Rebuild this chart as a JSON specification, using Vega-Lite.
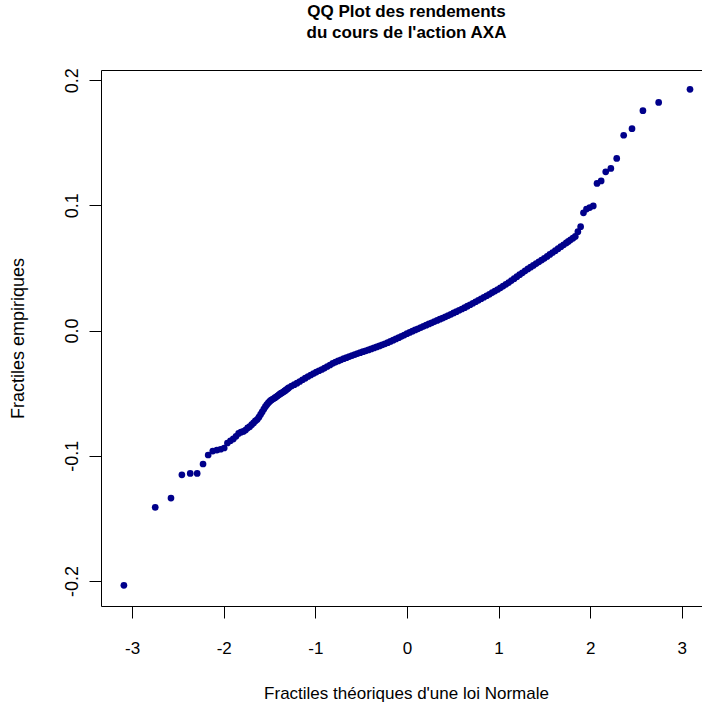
{
  "$schema": "https://vega.github.io/schema/vega-lite/v6.json",
  "autosize": "none",
  "padding": {"left": 101, "top": 70, "right": 0, "bottom": 104},
  "width": 601,
  "height": 536,
  "background": "white",
  "title": {
    "text": ["QQ Plot des rendements", "du cours de l'action AXA"],
    "font": "Liberation Sans",
    "fontSize": 17,
    "fontWeight": "bold",
    "color": "#000000",
    "anchor": "middle",
    "frame": "group",
    "dx": 5,
    "offset": 13,
    "baseline": "alphabetic",
    "lineHeight": 21
  },
  "config": {
    "view": {"stroke": "#000000", "strokeWidth": 1},
    "axis": {
      "grid": false,
      "domain": false,
      "tickColor": "#000000",
      "tickSize": 12,
      "labelFont": "Liberation Sans",
      "labelColor": "#000000",
      "titleFont": "Liberation Sans",
      "titleColor": "#000000",
      "titleFontWeight": "normal"
    }
  },
  "data": {
    "values": [
      {"x": -3.090, "y": -0.2035}, {"x": -2.748, "y": -0.1412}, {"x": -2.576, "y": -0.1338}, {"x": -2.457, "y": -0.1152},
      {"x": -2.366, "y": -0.1141}, {"x": -2.290, "y": -0.1141}, {"x": -2.226, "y": -0.1066}, {"x": -2.170, "y": -0.0994},
      {"x": -2.120, "y": -0.0963}, {"x": -2.075, "y": -0.0955}, {"x": -2.034, "y": -0.0948}, {"x": -1.995, "y": -0.0938},
      {"x": -1.960, "y": -0.0898}, {"x": -1.927, "y": -0.0880}, {"x": -1.896, "y": -0.0866}, {"x": -1.866, "y": -0.0845},
      {"x": -1.838, "y": -0.0822}, {"x": -1.812, "y": -0.0812}, {"x": -1.786, "y": -0.0806}, {"x": -1.762, "y": -0.0795},
      {"x": -1.739, "y": -0.0778}, {"x": -1.717, "y": -0.0768}, {"x": -1.695, "y": -0.0752}, {"x": -1.675, "y": -0.0738},
      {"x": -1.655, "y": -0.0722}, {"x": -1.635, "y": -0.0710}, {"x": -1.616, "y": -0.0692}, {"x": -1.598, "y": -0.0670},
      {"x": -1.581, "y": -0.0650}, {"x": -1.563, "y": -0.0628}, {"x": -1.546, "y": -0.0608}, {"x": -1.530, "y": -0.0592},
      {"x": -1.514, "y": -0.0578}, {"x": -1.499, "y": -0.0566}, {"x": -1.483, "y": -0.0556}, {"x": -1.468, "y": -0.0549},
      {"x": -1.454, "y": -0.0543}, {"x": -1.440, "y": -0.0536}, {"x": -1.426, "y": -0.0529}, {"x": -1.412, "y": -0.0521},
      {"x": -1.398, "y": -0.0513}, {"x": -1.385, "y": -0.0506}, {"x": -1.372, "y": -0.0500}, {"x": -1.360, "y": -0.0495},
      {"x": -1.347, "y": -0.0489}, {"x": -1.335, "y": -0.0482}, {"x": -1.323, "y": -0.0476}, {"x": -1.311, "y": -0.0469},
      {"x": -1.299, "y": -0.0462}, {"x": -1.287, "y": -0.0455},
      {"x": -1.26, "y": -0.0443}, {"x": -1.23, "y": -0.0432}, {"x": -1.20, "y": -0.0420}, {"x": -1.17, "y": -0.0407},
      {"x": -1.14, "y": -0.0393}, {"x": -1.11, "y": -0.0380}, {"x": -1.08, "y": -0.0367}, {"x": -1.05, "y": -0.0355},
      {"x": -1.02, "y": -0.0343}, {"x": -0.99, "y": -0.0332}, {"x": -0.96, "y": -0.0321}, {"x": -0.93, "y": -0.0311},
      {"x": -0.90, "y": -0.0300}, {"x": -0.87, "y": -0.0287}, {"x": -0.84, "y": -0.0275}, {"x": -0.81, "y": -0.0262},
      {"x": -0.78, "y": -0.0252}, {"x": -0.75, "y": -0.0243}, {"x": -0.72, "y": -0.0234}, {"x": -0.69, "y": -0.0225},
      {"x": -0.66, "y": -0.0217}, {"x": -0.63, "y": -0.0208}, {"x": -0.60, "y": -0.0200}, {"x": -0.57, "y": -0.0192},
      {"x": -0.54, "y": -0.0184}, {"x": -0.51, "y": -0.0177}, {"x": -0.48, "y": -0.0169}, {"x": -0.45, "y": -0.0162},
      {"x": -0.42, "y": -0.0155}, {"x": -0.39, "y": -0.0147}, {"x": -0.36, "y": -0.0139}, {"x": -0.33, "y": -0.0131},
      {"x": -0.30, "y": -0.0123}, {"x": -0.27, "y": -0.0114}, {"x": -0.24, "y": -0.0106}, {"x": -0.21, "y": -0.0097},
      {"x": -0.18, "y": -0.0087}, {"x": -0.15, "y": -0.0077}, {"x": -0.12, "y": -0.0067}, {"x": -0.09, "y": -0.0057},
      {"x": -0.06, "y": -0.0046}, {"x": -0.03, "y": -0.0036}, {"x": 0.00, "y": -0.0025}, {"x": 0.03, "y": -0.0015},
      {"x": 0.06, "y": -0.0005}, {"x": 0.09, "y": 0.0005}, {"x": 0.12, "y": 0.0014}, {"x": 0.15, "y": 0.0024},
      {"x": 0.18, "y": 0.0034}, {"x": 0.21, "y": 0.0043}, {"x": 0.24, "y": 0.0053}, {"x": 0.27, "y": 0.0062},
      {"x": 0.30, "y": 0.0072}, {"x": 0.33, "y": 0.0081}, {"x": 0.36, "y": 0.0091}, {"x": 0.39, "y": 0.0100},
      {"x": 0.42, "y": 0.0110}, {"x": 0.45, "y": 0.0120}, {"x": 0.48, "y": 0.0130}, {"x": 0.51, "y": 0.0141},
      {"x": 0.54, "y": 0.0151}, {"x": 0.57, "y": 0.0162}, {"x": 0.60, "y": 0.0172}, {"x": 0.63, "y": 0.0183},
      {"x": 0.66, "y": 0.0195}, {"x": 0.69, "y": 0.0206}, {"x": 0.72, "y": 0.0218}, {"x": 0.75, "y": 0.0230},
      {"x": 0.78, "y": 0.0242}, {"x": 0.81, "y": 0.0254}, {"x": 0.84, "y": 0.0266}, {"x": 0.87, "y": 0.0278},
      {"x": 0.90, "y": 0.0290}, {"x": 0.93, "y": 0.0303}, {"x": 0.96, "y": 0.0315}, {"x": 0.99, "y": 0.0328},
      {"x": 1.02, "y": 0.0341}, {"x": 1.05, "y": 0.0355}, {"x": 1.08, "y": 0.0369}, {"x": 1.11, "y": 0.0383},
      {"x": 1.14, "y": 0.0399}, {"x": 1.17, "y": 0.0414}, {"x": 1.20, "y": 0.0430}, {"x": 1.23, "y": 0.0446},
      {"x": 1.26, "y": 0.0461}, {"x": 1.29, "y": 0.0477}, {"x": 1.32, "y": 0.0492}, {"x": 1.35, "y": 0.0506},
      {"x": 1.38, "y": 0.0520}, {"x": 1.41, "y": 0.0535}, {"x": 1.44, "y": 0.0549}, {"x": 1.47, "y": 0.0563},
      {"x": 1.50, "y": 0.0577}, {"x": 1.53, "y": 0.0592}, {"x": 1.56, "y": 0.0608}, {"x": 1.59, "y": 0.0623},
      {"x": 1.62, "y": 0.0638}, {"x": 1.65, "y": 0.0654}, {"x": 1.68, "y": 0.0670}, {"x": 1.71, "y": 0.0685},
      {"x": 1.739, "y": 0.0700}, {"x": 1.762, "y": 0.0712}, {"x": 1.786, "y": 0.0725}, {"x": 1.812, "y": 0.0738},
      {"x": 1.838, "y": 0.0752}, {"x": 1.866, "y": 0.0790}, {"x": 1.896, "y": 0.0830}, {"x": 1.927, "y": 0.0940},
      {"x": 1.960, "y": 0.0970}, {"x": 1.995, "y": 0.0982}, {"x": 2.034, "y": 0.0995}, {"x": 2.075, "y": 0.1175},
      {"x": 2.120, "y": 0.1195}, {"x": 2.170, "y": 0.1268}, {"x": 2.226, "y": 0.1295}, {"x": 2.290, "y": 0.1375},
      {"x": 2.366, "y": 0.1560}, {"x": 2.457, "y": 0.1612}, {"x": 2.576, "y": 0.1756}, {"x": 2.748, "y": 0.1822},
      {"x": 3.090, "y": 0.1927}
    ]
  },
  "mark": {"type": "point", "filled": true, "shape": "circle", "size": 45, "color": "#00008B", "opacity": 1},
  "encoding": {
    "x": {
      "field": "x",
      "type": "quantitative",
      "scale": {"domain": [-3.34, 3.221], "nice": false, "zero": false},
      "axis": {
        "values": [-3, -2, -1, 0, 1, 2, 3],
        "labelExpr": "'' + datum.value",
        "labelFontSize": 17,
        "labelPadding": 22,
        "title": "Fractiles théoriques d'une loi Normale",
        "titleFontSize": 17,
        "titleX": 305,
        "titleY": 87,
        "titleBaseline": "middle",
        "titleAnchor": "middle"
      }
    },
    "y": {
      "field": "y",
      "type": "quantitative",
      "scale": {"domain": [-0.2200, 0.2081], "nice": false, "zero": false},
      "axis": {
        "values": [-0.2, -0.1, 0, 0.1, 0.2],
        "format": ".1f",
        "labelExpr": "replace(datum.label, '−', '-')",
        "labelFontSize": 18,
        "labelAngle": -90,
        "labelPadding": 8,
        "title": "Fractiles empiriques",
        "titleFontSize": 18,
        "titleAngle": -90,
        "titleX": -83,
        "titleY": 268,
        "titleBaseline": "middle",
        "titleAnchor": "middle"
      }
    }
  }
}
